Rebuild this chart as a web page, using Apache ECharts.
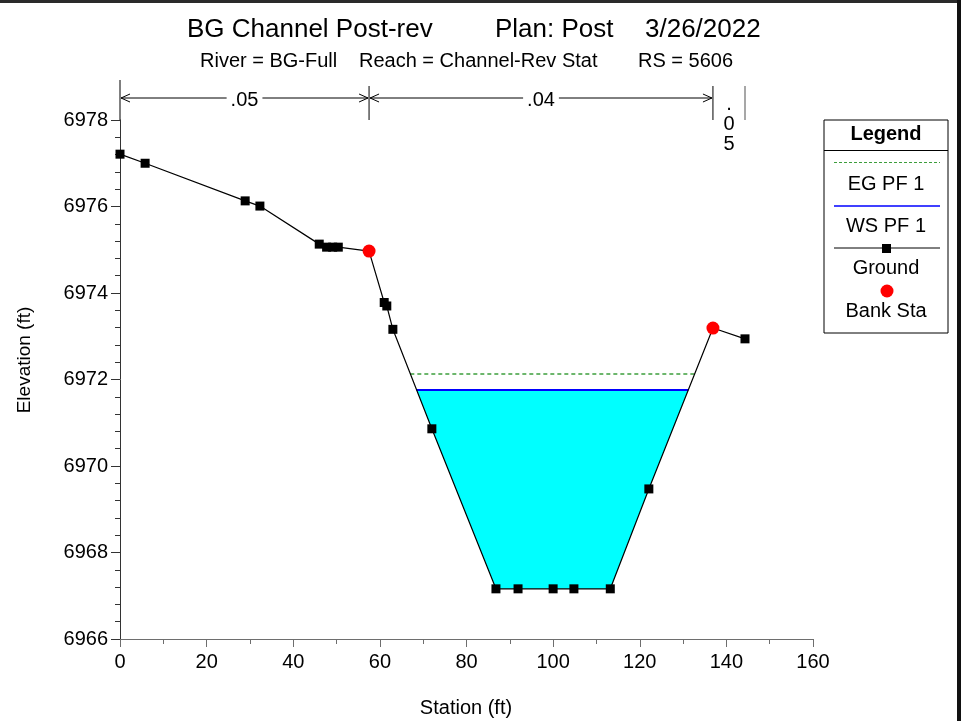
<!DOCTYPE html>
<html><head><meta charset="utf-8">
<script src="https://cdn.jsdelivr.net/npm/echarts/dist/echarts.min.js"></script>
<style>html,body{margin:0;padding:0;background:#fff}#c{width:961px;height:721px}</style>
</head><body><div id="c"></div>
<script>
// ---- data ----
const stations   = [0, 5.8, 28.9, 32.3, 46.0, 47.7, 49.1, 50.4, 57.5, 61.0, 61.6, 63.0, 72.0, 86.8, 91.9, 100.0, 104.8, 113.2, 122.1, 136.9, 144.3];
const elevations = [6977.21, 6977.0, 6976.13, 6976.01, 6975.13, 6975.06, 6975.06, 6975.06, 6974.97, 6973.78, 6973.70, 6973.16, 6970.86, 6967.16, 6967.16, 6967.16, 6967.16, 6967.16, 6969.47, 6973.19, 6972.94];
const bankStations   = [57.5, 136.9];
const bankElevations = [6974.97, 6973.19];
const wsElevation = 6971.76;   // WS PF 1
const egElevation = 6972.13;   // EG PF 1
const nChangeStations = [0, 57.5, 136.9, 144.3];
const nValues = ['.05', '.04', '.05'];
const titleParts = ['BG Channel Post-rev', 'Plan: Post', '3/26/2022'];
const subtitleParts = ['River = BG-Full', 'Reach = Channel-Rev Stat', 'RS = 5606'];
const legendNames = ['EG PF 1', 'WS PF 1', 'Ground', 'Bank Sta'];

const FONT = '"Liberation Sans", Arial, sans-serif';

// ground crossings of a level
function crossings(level) {
  const res = [];
  for (let i = 0; i < stations.length - 1; i++) {
    const e0 = elevations[i], e1 = elevations[i + 1];
    if ((e0 - level) * (e1 - level) < 0) {
      res.push(stations[i] + (level - e0) / (e1 - e0) * (stations[i + 1] - stations[i]));
    }
  }
  return res;
}
const wsX = crossings(wsElevation);
const egX = crossings(egElevation);
const wsL = wsX[0], wsR = wsX[wsX.length - 1];
const egL = egX[0], egR = egX[egX.length - 1];
const waterPoly = [[wsL, wsElevation]];
stations.forEach((s, i) => { if (s > wsL && s < wsR) waterPoly.push([s, elevations[i]]); });
waterPoly.push([wsR, wsElevation]);

const chart = echarts.init(document.getElementById('c'), null, {renderer: 'canvas'});
const option = {
  animation: false,
  backgroundColor: '#ffffff',
  textStyle: {fontFamily: FONT},
  grid: {left: 120, right: 148, top: 120, bottom: 82, containLabel: false},
  xAxis: {
    type: 'value', min: 0, max: 160, interval: 20,
    axisLine: {show: true, onZero: false, lineStyle: {color: '#6e6e6e', width: 1}},
    axisTick: {show: true, length: 8, lineStyle: {color: '#6e6e6e'}},
    minorTick: {show: true, splitNumber: 2, length: 5, lineStyle: {color: '#6e6e6e'}},
    splitLine: {show: false}, minorSplitLine: {show: false},
    axisLabel: {color: '#000', fontSize: 20, fontFamily: FONT, margin: 13, formatter: v => String(v)}
  },
  yAxis: {
    type: 'value', min: 6966, max: 6978, interval: 2,
    axisLine: {show: true, onZero: false, lineStyle: {color: '#333', width: 1}},
    axisTick: {show: true, length: 9, lineStyle: {color: '#333'}},
    minorTick: {show: true, splitNumber: 5, length: 5, lineStyle: {color: '#333'}},
    splitLine: {show: false}, minorSplitLine: {show: false},
    axisLabel: {color: '#000', fontSize: 20, fontFamily: FONT, margin: 12, formatter: v => String(v)}
  },
  series: [
    {
      name: 'Water', type: 'custom', z: 1, silent: true,
      data: [[wsL, wsElevation]],
      encode: {x: 0, y: 1},
      renderItem: function (params, api) {
        const pts = waterPoly.map(p => api.coord(p));
        return {type: 'polygon', shape: {points: pts}, style: {fill: '#00ffff', stroke: null}};
      }
    },
    {
      name: 'EG PF 1', type: 'line', z: 3, symbol: 'none',
      data: [[egL, egElevation], [egR, egElevation]],
      lineStyle: {color: '#3c9e3c', width: 1.5, type: [4, 3]}
    },
    {
      name: 'WS PF 1', type: 'line', z: 3, symbol: 'none',
      data: [[wsL, wsElevation], [wsR, wsElevation]],
      lineStyle: {color: '#0000ff', width: 2}
    },
    {
      name: 'Ground', type: 'line', z: 4,
      data: stations.map((s, i) => ({
        value: [s, elevations[i]],
        symbol: bankStations.indexOf(s) >= 0 ? 'none' : 'rect'
      })),
      lineStyle: {color: '#000', width: 1.2},
      symbol: 'rect', symbolSize: 9,
      itemStyle: {color: '#000'}
    },
    {
      name: 'Bank Sta', type: 'scatter', z: 5,
      data: bankStations.map((s, i) => [s, bankElevations[i]]),
      symbol: 'circle', symbolSize: 13,
      itemStyle: {color: '#ff0000', opacity: 1}
    }
  ]
};
chart.setOption(option);

// ---- decorations (titles, n-values, legend, axis names) ----
const px = (x, y) => chart.convertToPixel({gridIndex: 0}, [x, y]);
const g = [];
function txt(x, y, s, size, opts) {
  g.push(Object.assign({
    type: 'text', x: x, y: y, z: 50,
    style: Object.assign({text: s, font: size + 'px ' + FONT, fill: '#000', textAlign: 'left', textVerticalAlign: 'middle'}, opts || {})
  }));
}
function line(x1, y1, x2, y2, stroke, w, dash) {
  g.push({type: 'line', z: 50, shape: {x1: x1, y1: y1, x2: x2, y2: y2}, style: {stroke: stroke, lineWidth: w || 1, lineDash: dash || null}});
}
// frame
g.push({type: 'rect', z: 60, shape: {x: 0, y: 0, width: 961, height: 3}, style: {fill: '#2a2a2a'}});
g.push({type: 'rect', z: 60, shape: {x: 957, y: 0, width: 4, height: 721}, style: {fill: '#111'}});
// title
const titleX = [187, 495, 645];
titleParts.forEach((t, i) => txt(titleX[i], 30, t, 26));
const subX = [200, 359, 638];
subtitleParts.forEach((t, i) => txt(subX[i], 61, t, 20));
// axis names
txt(466, 708, 'Station (ft)', 20, {textAlign: 'center'});
g.push({type: 'text', x: 25, y: 360, rotation: Math.PI / 2, z: 50,
  style: {text: 'Elevation (ft)', font: '19px ' + FONT, fill: '#000', textAlign: 'center', textVerticalAlign: 'middle'}});
// n-values
const topY = px(0, 6978)[1];
const arrowY = 98;
nChangeStations.forEach((s, i) => {
  const x = px(s, 6978)[0];
  const last = i === nChangeStations.length - 1;
  line(x, i === 0 ? 80 : 86, x, topY, last ? '#8a8a8a' : '#000', last ? 1.5 : 1);
});
for (let i = 0; i < nValues.length; i++) {
  const x0 = px(nChangeStations[i], 6978)[0], x1 = px(nChangeStations[i + 1], 6978)[0];
  if (x1 - x0 > 60) {
    line(x0 + 1, arrowY, x1 - 1, arrowY, '#000', 1);
    g.push({type: 'polyline', z: 50, shape: {points: [[x0 + 10, arrowY - 4], [x0 + 1, arrowY], [x0 + 10, arrowY + 4]]}, style: {stroke: '#000', fill: null, lineWidth: 1}});
    g.push({type: 'polyline', z: 50, shape: {points: [[x1 - 10, arrowY - 4], [x1 - 1, arrowY], [x1 - 10, arrowY + 4]]}, style: {stroke: '#000', fill: null, lineWidth: 1}});
    txt((x0 + x1) / 2, arrowY + 2, nValues[i], 20, {textAlign: 'center', backgroundColor: '#fff', padding: [0, 4]});
  } else {
    const xc = (x0 + x1) / 2;
    nValues[i].split('').forEach((ch, k) => txt(xc, 104 + k * 20, ch, 20, {textAlign: 'center'}));
  }
}
// legend box
const LX = 824, LR = 948, LT = 120, LB = 333, LC = 886;
g.push({type: 'rect', z: 49, shape: {x: LX, y: LT, width: LR - LX, height: LB - LT}, style: {fill: '#fff', stroke: '#000', lineWidth: 1}});
line(LX, 150.5, LR, 150.5, '#000', 1);
txt(LC, 134, 'Legend', 20, {textAlign: 'center', font: 'bold 20px ' + FONT});
line(834, 162.5, 940, 162.5, '#3c9e3c', 1.2, [3, 2]);
txt(LC, 184, legendNames[0], 20, {textAlign: 'center'});
line(834, 206, 940, 206, '#0000ff', 1.5);
txt(LC, 226, legendNames[1], 20, {textAlign: 'center'});
line(834, 248, 940, 248, '#000', 1);
g.push({type: 'rect', z: 51, shape: {x: LC - 4, y: 244, width: 9, height: 9}, style: {fill: '#000'}});
txt(LC, 268, legendNames[2], 20, {textAlign: 'center'});
g.push({type: 'circle', z: 51, shape: {cx: LC + 1, cy: 291, r: 6.5}, style: {fill: '#ff0000'}});
txt(LC, 311, legendNames[3], 20, {textAlign: 'center'});

chart.setOption({graphic: {elements: g}});
</script></body></html>
